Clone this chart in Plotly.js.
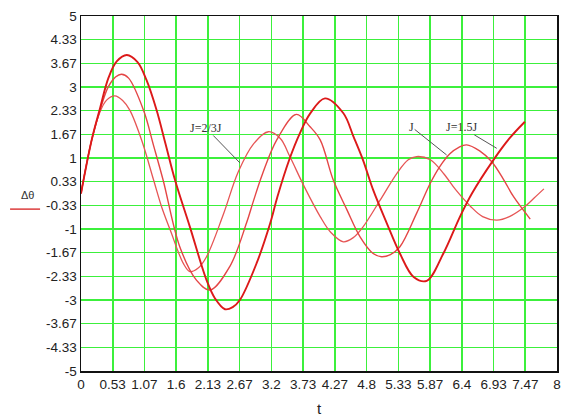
<!DOCTYPE html>
<html>
<head>
<meta charset="utf-8">
<script src="https://cdn.plot.ly/plotly-3.0.1.min.js"></script>
<style>
html,body{margin:0;padding:0;background:#fff;}
#chart{width:566px;height:417px;}
</style>
</head>
<body>
<div id="chart"></div>
<script>
// Curve J=2/3J (fastest)
const tA = [0,0.18,0.32,0.43,0.57,0.70,0.82,1.02,1.22,1.36,1.50,1.72,1.83,1.97,2.11,2.39,2.64,2.90,3.15,3.35,3.51,3.75,4.02,4.20,4.41,4.57,4.74,5.03,5.31,5.50,5.64,5.87,6.10,6.30,6.54,6.75,6.99,7.20,7.45,7.62,7.78];
const vA = [0,1.51,2.30,2.63,2.75,2.62,2.35,1.50,0.38,-0.40,-1.03,-1.97,-2.20,-2.10,-1.78,-0.60,0.60,1.40,1.74,1.55,1.04,0.20,-0.65,-1.10,-1.36,-1.25,-0.94,-0.18,0.57,0.95,1.04,0.95,0.55,0.10,-0.35,-0.65,-0.75,-0.65,-0.38,-0.12,0.13];
// Curve J
const tB = [0,0.18,0.32,0.46,0.58,0.68,0.80,1.05,1.22,1.38,1.66,1.94,2.17,2.50,2.78,2.90,3.05,3.29,3.62,3.85,4.02,4.24,4.47,4.69,4.91,5.05,5.20,5.36,5.64,5.87,6.03,6.20,6.35,6.48,6.70,6.90,7.10,7.27,7.55];
const vB = [0,1.51,2.35,3.01,3.28,3.36,3.25,2.35,1.35,0.38,-1.50,-2.44,-2.72,-2.06,-0.84,-0.20,0.55,1.51,2.23,1.88,1.51,0.38,-0.46,-1.22,-1.69,-1.78,-1.72,-1.50,-0.56,0.29,0.76,1.12,1.30,1.37,1.20,0.90,0.40,-0.09,-0.72];
// Curve J=1.5J (slowest, thick)
const tC = [0,0.18,0.32,0.46,0.60,0.77,0.95,1.10,1.27,1.42,1.58,1.83,2.11,2.25,2.42,2.55,2.67,2.95,3.18,3.30,3.50,3.68,3.85,4.10,4.41,4.58,4.74,4.91,5.14,5.36,5.59,5.81,6.09,6.37,6.57,6.93,7.20,7.46];
const vC = [0,1.51,2.40,3.25,3.72,3.90,3.70,3.20,2.35,1.40,0.38,-0.94,-2.44,-2.95,-3.26,-3.20,-3.00,-1.97,-0.84,-0.10,0.95,1.70,2.25,2.68,2.26,1.60,0.94,0.10,-0.84,-1.69,-2.35,-2.46,-1.69,-0.65,0.00,0.94,1.55,2.02];

const xTickVals = [0,0.5333,1.0667,1.6,2.1333,2.6667,3.2,3.7333,4.2667,4.8,5.3333,5.8667,6.4,6.9333,7.4667,8];
const xTickText = ["0","0.53","1.07","1.6","2.13","2.67","3.2","3.73","4.27","4.8","5.33","5.87","6.4","6.93","7.47","8"];
const yTickVals = [-5,-4.3333,-3.6667,-3,-2.3333,-1.6667,-1,-0.3333,0.3333,1,1.6667,2.3333,3,3.6667,4.3333,5];
const yTickText = ["-5","-4.33","-3.67","-3","-2.33","-1.67","-1","-0.33","0.33","1","1.67","2.33","3","3.67","4.33","5"];

const labels = ["J=2/3J","J","J=1.5J"];
const labelTips = [[2.672,0.86],[6.145,1.085],[6.987,1.273]];

const traces = [
  {x:tA, y:vA, mode:'lines', line:{color:'rgb(230,85,85)', width:1.3, shape:'spline', smoothing:1}},
  {x:tB, y:vB, mode:'lines', line:{color:'rgb(228,70,70)', width:1.4, shape:'spline', smoothing:1}},
  {x:tC, y:vC, mode:'lines', line:{color:'rgb(220,25,25)', width:1.9, shape:'spline', smoothing:1}}
];

const tickFont = {family:'"Liberation Sans", Arial, sans-serif', size:13.5, color:'#222'};
const annFont = {family:'"Liberation Serif", "Times New Roman", serif', size:12, color:'#333'};
const offsets = [[-34,-35],[-35,-28],[-35,-21]];

const annotations = labels.map((txt,i)=>({
  x:labelTips[i][0], y:labelTips[i][1], xref:'x', yref:'y',
  text:txt, showarrow:true, arrowhead:0, arrowwidth:1, arrowcolor:'#555',
  ax:offsets[i][0], ay:offsets[i][1], font:annFont, standoff:0, borderpad:0
}));
annotations.push({
  xref:'paper', yref:'paper', x:-0.130, y:0.496, text:'Δθ', showarrow:false,
  font:{family:'"Liberation Sans", Arial, sans-serif', size:11, color:'#333'}
});

const layout = {
  width:566, height:417,
  margin:{l:81, r:9, t:16, b:46, pad:0},
  paper_bgcolor:'#fff', plot_bgcolor:'#fff',
  showlegend:false,
  xaxis:{range:[0,8], tickvals:xTickVals, ticktext:xTickText, tickfont:tickFont,
    showgrid:true, gridcolor:'#3cf03c', gridwidth:1.6, zeroline:false,
    showline:true, linecolor:'#111', linewidth:1.5, mirror:true, ticks:'',
    title:{text:'t', font:{family:'"Liberation Sans", Arial, sans-serif', size:15, color:'#222'}, standoff:13}},
  yaxis:{range:[-5,5], tickvals:yTickVals, ticktext:yTickText, tickfont:tickFont,
    showgrid:true, gridcolor:'#3cf03c', gridwidth:1.6, zeroline:false,
    showline:true, linecolor:'#111', linewidth:1.5, mirror:true, ticks:''},
  annotations:annotations,
  shapes:[{type:'line', xref:'paper', yref:'paper', x0:-0.149, x1:-0.086, y0:0.456, y1:0.456,
    line:{color:'rgb(220,60,60)', width:1.5}}]
};

Plotly.newPlot('chart', traces, layout, {displayModeBar:false, staticPlot:true});
</script>
</body>
</html>
